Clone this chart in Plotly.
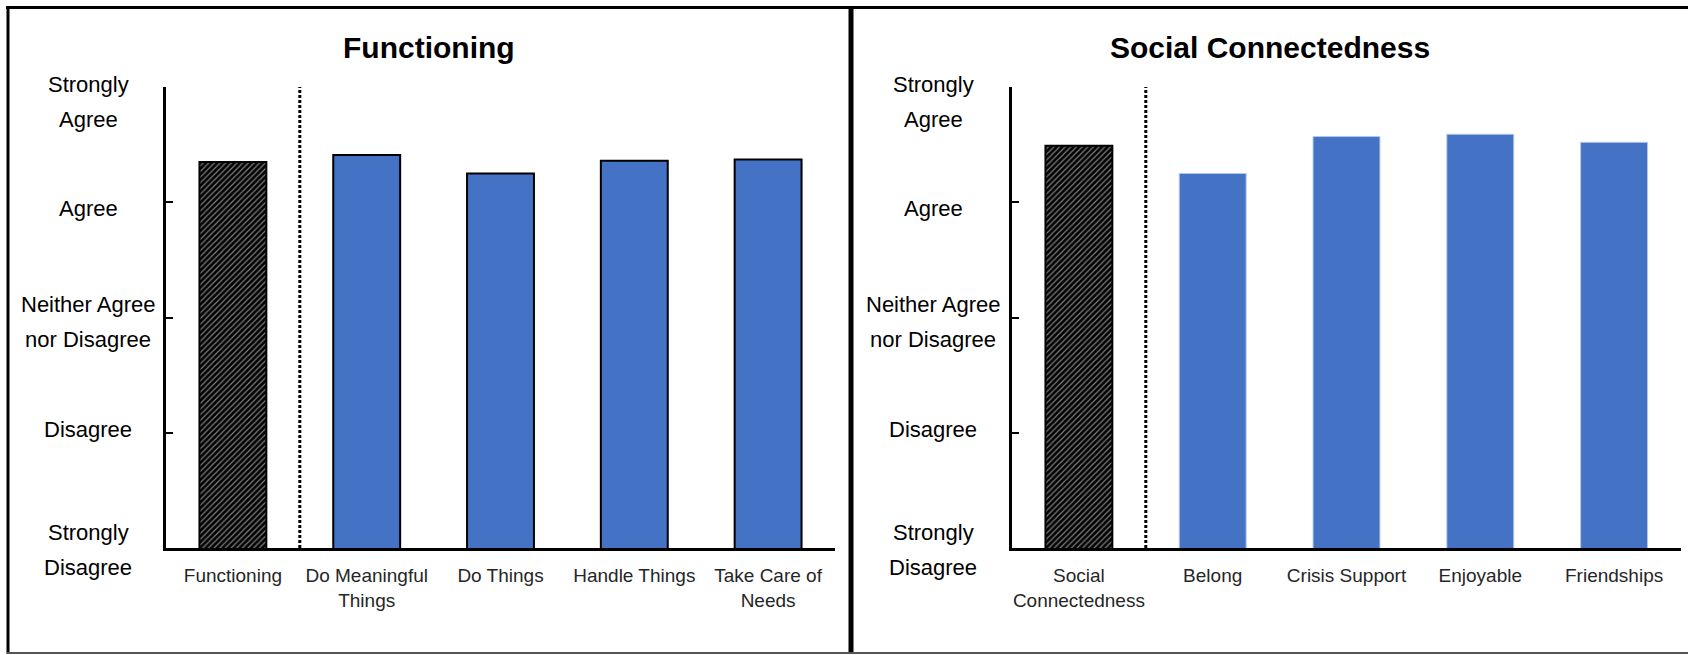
import plotly.graph_objects as go

# ---- data ----
scale_values = [1, 2, 3, 4, 5]
scale_labels = ["Strongly<br>Disagree", "Disagree", "Neither Agree<br>nor Disagree", "Agree", "Strongly<br>Agree"]

func_title = "Functioning"
func_summary_cat = ["Functioning"]
func_summary_val = [4.35]
func_item_cats = ["Do Meaningful<br>Things", "Do Things", "Handle Things", "Take Care of<br>Needs"]
func_item_vals = [4.41, 4.25, 4.36, 4.37]

soc_title = "Social Connectedness"
soc_summary_cat = ["Social<br>Connectedness"]
soc_summary_val = [4.49]
soc_item_cats = ["Belong", "Crisis Support", "Enjoyable", "Friendships"]
soc_item_vals = [4.25, 4.57, 4.59, 4.52]

# ---- style ----
W, H = 1688, 655
FONT = "Liberation Sans, Arial, sans-serif"
BLUE = "#4472C4"

def px(x):
    return x / W

def py(y):
    return 1 - y / H

fig = go.Figure()

hatch = dict(shape="/", fgcolor="white", size=4, solidity=0.3, fillmode="overlay")

# left panel
fig.add_trace(go.Bar(x=func_summary_cat, y=func_summary_val, xaxis="x", yaxis="y",
                     marker=dict(color="black", pattern=hatch, line=dict(color="black", width=2)),
                     showlegend=False, hoverinfo="skip"))
fig.add_trace(go.Bar(x=func_item_cats, y=func_item_vals, xaxis="x", yaxis="y",
                     marker=dict(color=BLUE, line=dict(color="black", width=2)),
                     showlegend=False, hoverinfo="skip"))
# right panel
fig.add_trace(go.Bar(x=soc_summary_cat, y=soc_summary_val, xaxis="x2", yaxis="y2",
                     marker=dict(color="black", pattern=hatch, line=dict(color="black", width=2)),
                     showlegend=False, hoverinfo="skip"))
fig.add_trace(go.Bar(x=soc_item_cats, y=soc_item_vals, xaxis="x2", yaxis="y2",
                     marker=dict(color=BLUE, line=dict(color="#b4c7e7", width=1)),
                     showlegend=False, hoverinfo="skip"))

ydom = [py(548), py(87)]
xaxis_common = dict(type="category", showline=True, linecolor="black", linewidth=3,
                    ticks="", showgrid=False, zeroline=False, ticklabelstandoff=8,
                    tickfont=dict(family=FONT, size=19, color="#262626"))
yaxis_common = dict(range=[1, 5], tickvals=scale_values, ticks="inside", ticklen=7, tickwidth=2,
                    tickcolor="black", showline=True, linecolor="black", linewidth=3,
                    showticklabels=False, showgrid=False, zeroline=False)

fig.update_layout(
    width=W, height=H,
    margin=dict(l=0, r=0, t=0, b=0),
    paper_bgcolor="white", plot_bgcolor="white",
    barmode="overlay", bargap=0.5,
    xaxis=dict(domain=[px(166), px(835)], anchor="y",
               categoryorder="array", categoryarray=func_summary_cat + func_item_cats, **xaxis_common),
    yaxis=dict(domain=ydom, anchor="x", **yaxis_common),
    xaxis2=dict(domain=[px(1012), px(1681)], anchor="y2",
                categoryorder="array", categoryarray=soc_summary_cat + soc_item_cats, **xaxis_common),
    yaxis2=dict(domain=ydom, anchor="x2", **yaxis_common),
)

# dotted separators between summary and items
for xr, yr in [("x", "y"), ("x2", "y2")]:
    fig.add_shape(type="line", xref=xr, yref=yr, x0=0.5, x1=0.5, y0=1, y1=5,
                  line=dict(color="black", width=3, dash="3px,2px"))

# y scale labels (each line placed separately for the wider line spacing)
label_shift = [-2, 3, -4, -6, -15]
LINE_GAP = 35
for xc, yr in [(88, "y"), (933, "y2")]:
    for v, lab, s in zip(scale_values, scale_labels, label_shift):
        lines = lab.split("<br>")
        n = len(lines)
        for i, ln in enumerate(lines):
            off = ((n - 1) / 2 - i) * LINE_GAP
            fig.add_annotation(x=px(xc), xref="paper", y=v, yref=yr, text=ln, showarrow=False,
                               xanchor="center", yanchor="middle", yshift=s + off,
                               font=dict(family=FONT, size=22, color="black"))

# titles
for xc, t in [(429, func_title), (1270, soc_title)]:
    fig.add_annotation(x=px(xc), xref="paper", y=py(48), yref="paper", text="<b>" + t + "</b>",
                       showarrow=False, xanchor="center", yanchor="middle",
                       font=dict(family=FONT, size=30, color="black"))

# panel frame
fig.add_shape(type="line", xref="paper", yref="paper", x0=px(6), x1=1, y0=py(7.5), y1=py(7.5),
              line=dict(color="black", width=3))
fig.add_shape(type="line", xref="paper", yref="paper", x0=px(8), x1=px(8), y0=py(6), y1=py(654),
              line=dict(color="black", width=3))
fig.add_shape(type="line", xref="paper", yref="paper", x0=px(851), x1=px(851), y0=py(6), y1=py(654),
              line=dict(color="black", width=5))
fig.add_shape(type="line", xref="paper", yref="paper", x0=px(7), x1=1, y0=py(653), y1=py(653),
              line=dict(color="#555", width=2))

fig.write_html("out.html", config={"displayModeBar": False},
               post_script="document.body.style.margin='0';document.body.style.overflow='hidden';")
